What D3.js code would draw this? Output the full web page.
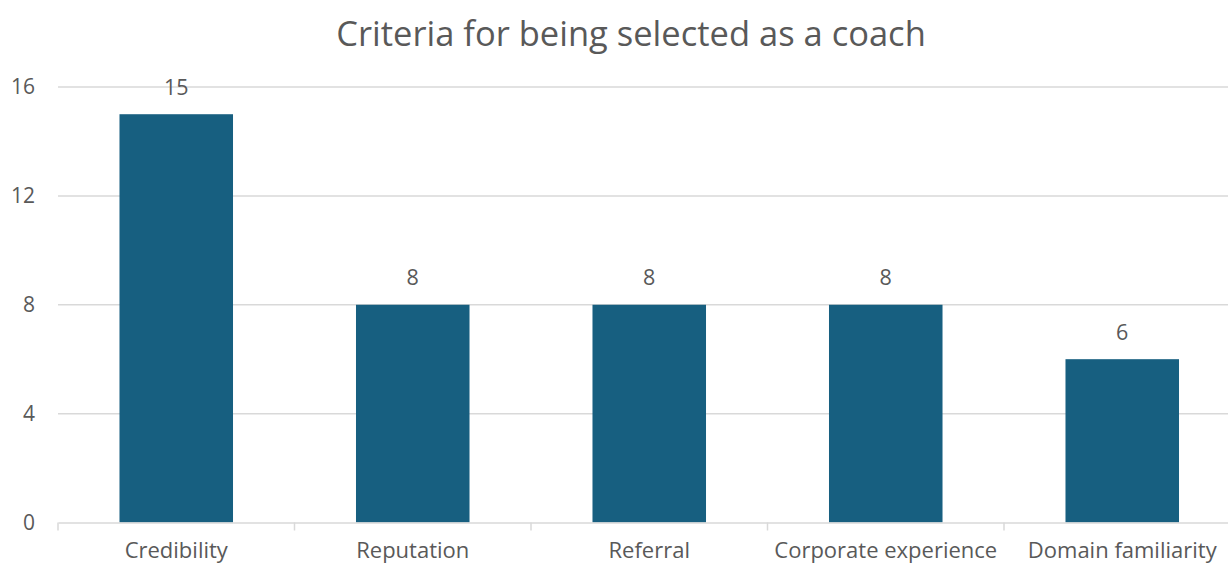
<!DOCTYPE html>
<html><head><meta charset="utf-8">
<script src="https://cdn.jsdelivr.net/npm/d3@7"></script>
<style>body{margin:0;background:#fff;} svg{display:block;} text{font-family:"Open Sans",sans-serif;fill:#595959;}</style>
</head><body>
<svg id="c" width="1228" height="563"></svg>
<script>
const categories = ["Credibility","Reputation","Referral","Corporate experience","Domain familiarity"];
const values = [15, 8, 8, 8, 6];
const yTicks = [0, 4, 8, 12, 16];
const title = "Criteria for being selected as a coach";

const svg = d3.select("#c");
const mLeft = 58, mRight = 1240.5, mTop = 87, mBottom = 522.5;
const x = d3.scaleBand().domain(categories).range([mLeft, mRight]).paddingInner(0.52).paddingOuter(0.26);
const xb = d3.scaleBand().domain(categories).range([mLeft, mRight]);
const y = d3.scaleLinear().domain([0, 16]).range([mBottom, mTop]);

svg.append("text").attr("x", 631).attr("y", 32).attr("text-anchor","middle")
  .attr("dominant-baseline","central").style("font-size","34.5px").text(title);

// gridlines
svg.append("g").selectAll("line").data(yTicks.filter(d=>d>0)).join("line")
  .attr("x1", mLeft).attr("x2", 1228).attr("y1", d=>y(d)).attr("y2", d=>y(d))
  .attr("stroke","#d9d9d9").attr("stroke-width",1.5);

// y axis labels
const ya = svg.append("g").attr("transform",`translate(${mLeft},0)`)
  .call(d3.axisLeft(y).tickValues(yTicks).tickSize(0).tickPadding(23));
ya.select(".domain").remove();
ya.selectAll("text").style("font-size","21px").attr("fill","#595959").style("font-family","'Open Sans',sans-serif");

// bars
svg.append("g").selectAll("rect").data(values).join("rect")
  .attr("x",(d,i)=>x(categories[i])).attr("width",x.bandwidth())
  .attr("y",d=>y(d)).attr("height",d=>y(0)-y(d))
  .attr("fill","#175f80");

// data labels
svg.append("g").selectAll("text").data(values).join("text")
  .attr("x",(d,i)=>x(categories[i])+x.bandwidth()/2).attr("y",d=>y(d)-28)
  .attr("text-anchor","middle").attr("dominant-baseline","central")
  .style("font-size","21.5px").text(d=>d);

// x axis
const xa = svg.append("g").attr("transform",`translate(0,${mBottom})`)
  .call(d3.axisBottom(xb).tickSize(0).tickPadding(20).tickSizeOuter(0));
xa.select(".domain").attr("stroke","#d9d9d9").attr("stroke-width",1.5);
xa.selectAll("text").style("font-size","22px").attr("fill","#595959").style("font-family","'Open Sans',sans-serif");
// category boundary ticks
svg.append("g").selectAll("line").data(categories).join("line")
  .attr("x1",d=>xb(d)).attr("x2",d=>xb(d)).attr("y1",mBottom).attr("y2",mBottom+8)
  .attr("stroke","#d9d9d9").attr("stroke-width",1.5);
</script>
</body></html>
